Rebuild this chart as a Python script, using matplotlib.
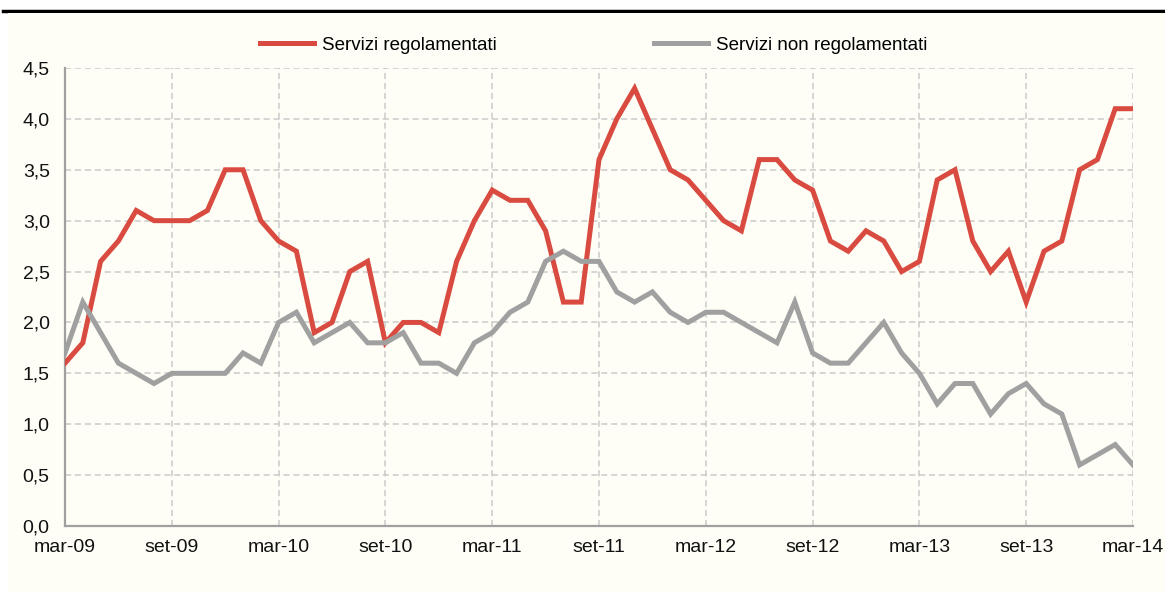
import numpy as np
from matplotlib import pyplot as plt
from matplotlib.patches import Rectangle
from matplotlib.lines import Line2D

plt.rcParams['font.family'] = ['Liberation Sans Narrow', 'Liberation Sans', 'DejaVu Sans']

# monthly data, mar-09 .. mar-14
regolamentati = [1.6, 1.8, 2.6, 2.8, 3.1, 3.0, 3.0, 3.0, 3.1, 3.5,
                 3.5, 3.0, 2.8, 2.7, 1.9, 2.0, 2.5, 2.6, 1.8, 2.0, 2.0, 1.9,
                 2.6, 3.0, 3.3, 3.2, 3.2, 2.9, 2.2, 2.2, 3.6, 4.0, 4.3, 3.9,
                 3.5, 3.4, 3.2, 3.0, 2.9, 3.6, 3.6, 3.4, 3.3, 2.8, 2.7, 2.9,
                 2.8, 2.5, 2.6, 3.4, 3.5, 2.8, 2.5, 2.7, 2.2, 2.7, 2.8, 3.5,
                 3.6, 4.1, 4.1]
non_regolamentati = [1.7, 2.2, 1.9, 1.6, 1.5, 1.4, 1.5, 1.5, 1.5, 1.5,
                     1.7, 1.6, 2.0, 2.1, 1.8, 1.9, 2.0, 1.8, 1.8, 1.9, 1.6, 1.6,
                     1.5, 1.8, 1.9, 2.1, 2.2, 2.6, 2.7, 2.6, 2.6, 2.3, 2.2, 2.3,
                     2.1, 2.0, 2.1, 2.1, 2.0, 1.9, 1.8, 2.2, 1.7, 1.6, 1.6, 1.8,
                     2.0, 1.7, 1.5, 1.2, 1.4, 1.4, 1.1, 1.3, 1.4, 1.2, 1.1, 0.6,
                     0.7, 0.8, 0.6]
tick_labels = ['mar-09', 'set-09', 'mar-10', 'set-10', 'mar-11', 'set-11',
               'mar-12', 'set-12', 'mar-13', 'set-13', 'mar-14']
y_ticks = [0.0, 0.5, 1.0, 1.5, 2.0, 2.5, 3.0, 3.5, 4.0, 4.5]

months = np.arange(len(regolamentati))
red = '#D94B40'
grey = '#A0A0A0'
cream = '#FEFEF6'

fig = plt.figure(figsize=(11.65, 5.92), dpi=100)
fig.patch.set_facecolor('white')
# cream panel and black rule at the top
fig.patches.append(Rectangle((8 / 1165, 0), 1, 1 - 13 / 592, transform=fig.transFigure,
                             facecolor=cream, edgecolor='none', zorder=-10))
fig.lines.append(Line2D([3 / 1165, 1], [1 - 11 / 592, 1 - 11 / 592], transform=fig.transFigure,
                        color='black', linewidth=2.5, zorder=-10))

ax = fig.add_axes([65 / 1165, 1 - 526 / 592, (1133 - 65) / 1165, (526 - 68) / 592])
ax.set_facecolor(cream)
ax.plot(months, regolamentati, color=red, linewidth=3.6, solid_joinstyle='miter',
        label='Servizi regolamentati', zorder=3)
ax.plot(months, non_regolamentati, color=grey, linewidth=3.6, solid_joinstyle='miter',
        label='Servizi non regolamentati', zorder=3)

ax.set_xlim(0, 60)
ax.set_ylim(0, 4.5)
ax.set_xticks(np.arange(0, 61, 6))
ax.set_xticklabels(tick_labels)
ax.set_yticks(y_ticks)
ax.set_yticklabels([f'{v:.1f}'.replace('.', ',') for v in y_ticks])
ax.tick_params(length=0, labelsize=14, colors='#111111')
ax.tick_params(axis='x', pad=9)
ax.tick_params(axis='y', pad=11)

ax.grid(True, color='#CACACA', linestyle=(0, (4, 2.5)), linewidth=1.1, zorder=1)
for s in ['top', 'right']:
    ax.spines[s].set_visible(False)
for s in ['left', 'bottom']:
    ax.spines[s].set_color('#A0A0A0')
    ax.spines[s].set_linewidth(1.6)

leg = ax.legend(loc='lower center', bbox_to_anchor=(0.495, 1.0), ncol=2, frameon=False,
                fontsize=13.5, handlelength=2.9, columnspacing=8.4, handletextpad=0.4,
                borderaxespad=0.35)

plt.savefig('out.png', dpi=100, facecolor=fig.get_facecolor())
plt.close()
